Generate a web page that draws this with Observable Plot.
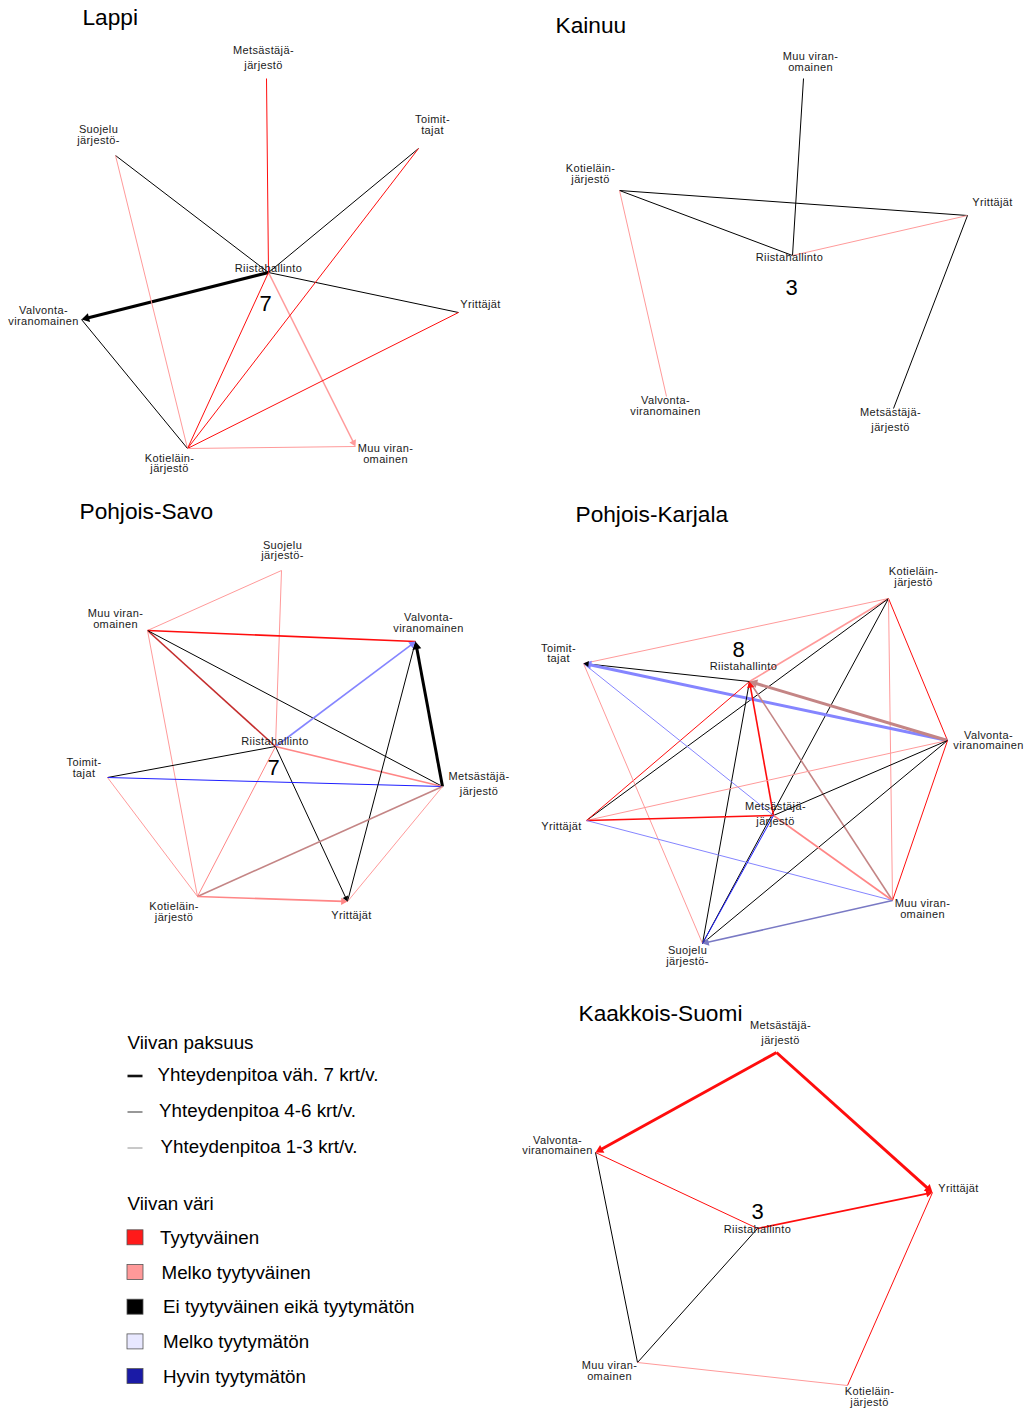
<!DOCTYPE html>
<html>
<head>
<meta charset="utf-8">
<script src="https://cdn.jsdelivr.net/npm/d3@7"></script>
<script src="https://cdn.jsdelivr.net/npm/@observablehq/plot@0.6"></script>
<style>
  html, body { margin: 0; padding: 0; background: #fff; }
  svg { display: block; }
  g[font-size="11"] { letter-spacing: 0.36px; }
</style>
</head>
<body>
<div id="chart"></div>
<script>
// ---------------- DATA ----------------
const ratingKeys = ["t", "mt", "e", "mtm", "ht"];
const ratingNames = ["Tyytyväinen", "Melko tyytyväinen", "Ei tyytyväinen eikä tyytymätön", "Melko tyytymätön", "Hyvin tyytymätön"];
const freqKeys = [3, 2, 1];
const freqNames = ["Yhteydenpitoa väh. 7 krt/v.", "Yhteydenpitoa 4-6 krt/v.", "Yhteydenpitoa 1-3 krt/v."];
const legendTitles = ["Viivan paksuus", "Viivan väri"];

const actorLabels = {
  Riista: "Riistahallinto",
  Mets: "Metsästäjä-\njärjestö",
  Suoj: "Suojelu\njärjestö-",
  Toim: "Toimit-\ntajat",
  Valv: "Valvonta-\nviranomainen",
  Yrit: "Yrittäjät",
  Koti: "Kotieläin-\njärjestö",
  Muu: "Muu viran-\nomainen"
};

const panelNames = ["Lappi", "Kainuu", "Pohjois-Savo", "Pohjois-Karjala", "Kaakkois-Suomi"];
const panelCounts = [7, 3, 7, 8, 3];
// layout: title anchor and count anchor (network layout coordinates)
const panelTitleAt = [[82, 17], [555, 25], [79, 511], [575, 514], [578, 1013.5]];
const panelCountAt = [[265, 303], [791, 287], [273, 767], [738, 649], [757, 1211]];

// nodes: [actor, x, y, labelX, labelY]  (network layout)
const lappiNodes = [
  ["Riista", 268, 272, 268, 268],
  ["Mets", 266, 78, 263, 50],
  ["Suoj", 115, 155, 98, 129],
  ["Toim", 418, 148, 432, 119],
  ["Valv", 81, 319, 43, 310],
  ["Yrit", 458, 312, 480, 304],
  ["Koti", 187, 448, 169, 457.5],
  ["Muu", 355, 446, 385, 448]
];
const kainuuNodes = [
  ["Riista", 792, 255, 789, 256.5],
  ["Muu", 803, 78, 810, 56],
  ["Koti", 619, 190, 590, 168],
  ["Yrit", 967, 215, 992, 202],
  ["Valv", 666, 396, 665, 400],
  ["Mets", 893, 408, 890, 412]
];
const savoNodes = [
  ["Suoj", 281, 570, 282, 544.5],
  ["Muu", 147, 630, 115, 613],
  ["Valv", 415, 641, 428, 617],
  ["Riista", 275, 746, 274.5, 741],
  ["Toim", 107, 777, 83.5, 762],
  ["Mets", 442, 786, 478.5, 776],
  ["Koti", 197, 896, 173.5, 906],
  ["Yrit", 347, 901, 351, 915]
];
const karjalaNodes = [
  ["Koti", 888, 598, 913, 571],
  ["Toim", 583, 663, 558, 647.5],
  ["Riista", 749, 681, 743, 665.5],
  ["Valv", 947, 740, 988, 734.5],
  ["Yrit", 586, 820, 561, 826],
  ["Mets", 773, 815, 775, 806],
  ["Muu", 892, 900, 922, 903],
  ["Suoj", 702, 943, 687, 950]
];
const kaakkoisNodes = [
  ["Mets", 776, 1052, 780, 1024.5],
  ["Valv", 595, 1152, 557, 1139.5],
  ["Yrit", 932, 1192, 958, 1187.5],
  ["Riista", 757, 1228, 757, 1229],
  ["Muu", 637, 1362, 609, 1365],
  ["Koti", 847, 1385, 869, 1391]
];

// edges: [from, to, rating A, rating B, frequency (3 = ≥7, 2 = 4-6, 1 = 1-3), directed]
const lappiEdges = [
  ["Riista", "Mets", "t", "t", 1, 0],
  ["Riista", "Suoj", "e", "e", 1, 0],
  ["Riista", "Toim", "e", "e", 1, 0],
  ["Riista", "Yrit", "e", "e", 1, 0],
  ["Riista", "Valv", "e", "e", 3, 1],
  ["Riista", "Muu", "mt", "mt", 2, 1],
  ["Riista", "Koti", "t", "t", 1, 0],
  ["Toim", "Koti", "t", "t", 1, 0],
  ["Yrit", "Koti", "t", "t", 1, 0],
  ["Suoj", "Koti", "mt", "mt", 1, 0],
  ["Valv", "Koti", "e", "e", 1, 0],
  ["Koti", "Muu", "mt", "mt", 1, 0]
];
const kainuuEdges = [
  ["Muu", "Riista", "e", "e", 1, 0],
  ["Koti", "Yrit", "e", "e", 1, 0],
  ["Koti", "Riista", "e", "e", 1, 0],
  ["Yrit", "Riista", "mt", "mt", 1, 0],
  ["Koti", "Valv", "mt", "mt", 1, 0],
  ["Yrit", "Mets", "e", "e", 1, 0]
];
const savoEdges = [
  ["Suoj", "Muu", "mt", "mt", 1, 0],
  ["Suoj", "Riista", "mt", "mt", 1, 0],
  ["Muu", "Valv", "t", "t", 2, 0],
  ["Muu", "Riista", "t", "e", 2, 0],
  ["Muu", "Mets", "e", "e", 1, 0],
  ["Muu", "Koti", "mt", "mt", 1, 0],
  ["Riista", "Valv", "mtm", "mtm", 2, 1],
  ["Riista", "Toim", "e", "e", 1, 0],
  ["Riista", "Mets", "t", "mt", 2, 0],
  ["Riista", "Koti", "t", "mt", 1, 0],
  ["Riista", "Yrit", "e", "e", 1, 1],
  ["Toim", "Mets", "ht", "ht", 1, 0],
  ["Toim", "Koti", "mt", "mt", 1, 0],
  ["Mets", "Valv", "e", "e", 3, 1],
  ["Yrit", "Valv", "e", "e", 1, 0],
  ["Mets", "Koti", "mt", "e", 2, 0],
  ["Mets", "Yrit", "mt", "mt", 1, 0],
  ["Koti", "Yrit", "t", "mt", 2, 1]
];
const karjalaEdges = [
  ["Koti", "Toim", "mt", "mt", 1, 0],
  ["Koti", "Riista", "mt", "mt", 2, 0],
  ["Koti", "Yrit", "e", "e", 1, 0],
  ["Koti", "Suoj", "e", "e", 1, 0],
  ["Koti", "Valv", "t", "t", 1, 0],
  ["Koti", "Muu", "mt", "mt", 1, 0],
  ["Riista", "Toim", "e", "e", 1, 1],
  ["Valv", "Toim", "mtm", "mtm", 3, 1],
  ["Valv", "Riista", "mt", "e", 3, 1],
  ["Riista", "Yrit", "t", "t", 1, 0],
  ["Riista", "Suoj", "e", "e", 1, 0],
  ["Mets", "Riista", "t", "t", 2, 1],
  ["Riista", "Muu", "mt", "e", 2, 0],
  ["Toim", "Mets", "mtm", "mtm", 1, 0],
  ["Toim", "Suoj", "mt", "mt", 1, 0],
  ["Yrit", "Valv", "mt", "mt", 1, 0],
  ["Yrit", "Mets", "t", "t", 2, 0],
  ["Yrit", "Muu", "mtm", "mtm", 1, 0],
  ["Valv", "Mets", "e", "e", 1, 0],
  ["Valv", "Suoj", "e", "e", 1, 0],
  ["Valv", "Muu", "t", "t", 1, 0],
  ["Mets", "Muu", "t", "mt", 2, 0],
  ["Mets", "Suoj", "ht", "ht", 1, 0],
  ["Muu", "Suoj", "mtm", "e", 2, 1]
];
const kaakkoisEdges = [
  ["Mets", "Valv", "t", "t", 3, 1],
  ["Mets", "Yrit", "t", "t", 3, 1],
  ["Valv", "Riista", "t", "t", 1, 0],
  ["Riista", "Yrit", "t", "t", 2, 1],
  ["Valv", "Muu", "e", "e", 1, 0],
  ["Riista", "Muu", "e", "e", 1, 0],
  ["Yrit", "Koti", "t", "t", 1, 0],
  ["Muu", "Koti", "mt", "mt", 1, 0]
];

const panelNodes = [lappiNodes, kainuuNodes, savoNodes, karjalaNodes, kaakkoisNodes];
const panelEdges = [lappiEdges, kainuuEdges, savoEdges, karjalaEdges, kaakkoisEdges];

// ---------------- STYLE ----------------
const W = 1028, H = 1408;
const FONT = "'Liberation Sans', Arial, Helvetica, sans-serif";
const lineColor = {t: "#ff0d0d", mt: "#ff9a9a", e: "#000000", mtm: "#8585ff", ht: "#1f1fff"};
const legendFill = {t: "#ff1a1a", mt: "#ff9999", e: "#000000", mtm: "#e8e8ff", ht: "#1a1aa6"};
const widthByFreq = {3: 3, 2: 1.6, 1: 1};
const headR = {3: 3.3, 2: 2.7, 1: 2.2};
const legendWidth = {3: 2.6, 2: 1.1, 1: 0.8};
const legendDash = {3: "#111", 2: "#444", 1: "#777"};
const TITLE_SIZE = 22.7, LABEL_SIZE = 11, LEGEND_SIZE = 18.8, COUNT_SIZE = 22;
const mix = (a, b) => {
  if (a === b) return lineColor[a];
  const c = d3.interpolateRgb.gamma(2.2)(lineColor[a], lineColor[b])(0.5);
  return d3.interpolateRgb(c, "#ffffff")(0.15);
};
const tipDist = r => 2 * Math.sqrt(Math.PI * r * r / (3 * Math.sqrt(3)));

// ---------------- BUILD ----------------
const links = [], heads = [], labels = [];
panelNodes.forEach((nodes, p) => {
  const byId = new Map(nodes.map(([id, x, y, lx, ly]) => [id, {id, x, y, lx, ly}]));
  panelEdges[p].forEach(([s, t, ra, rb, f, dir]) => {
    const a = byId.get(s), b = byId.get(t);
    const color = mix(ra, rb);
    let x2 = b.x, y2 = b.y;
    if (dir) {
      const dx = b.x - a.x, dy = b.y - a.y, len = Math.hypot(dx, dy);
      const ux = dx / len, uy = dy / len;
      const r = headR[f], d = tipDist(r);
      const cx = b.x - ux * d, cy = b.y - uy * d;
      heads.push({x: cx, y: cy, f, color, rotate: Math.atan2(dx, -dy) * 180 / Math.PI});
      x2 = cx; y2 = cy;
    }
    links.push({x1: a.x, y1: a.y, x2, y2, color, w: widthByFreq[f]});
  });
  nodes.forEach(([id, x, y, lx, ly]) => {
    const gap = id === "Mets" ? 15 : 10.6;
    actorLabels[id].split("\n").forEach((line, i) => labels.push({text: line, x: lx, y: ly + i * gap}));
  });
});

const titles = panelNames.map((name, i) => ({text: name, x: panelTitleAt[i][0], y: panelTitleAt[i][1]}));
const counts = panelCounts.map((c, i) => ({text: String(c), x: panelCountAt[i][0], y: panelCountAt[i][1]}));

// legend layout
const legX = 127, legTextX = 157;
const legHead = legendTitles.map((t, i) => ({text: t, x: legX, y: i === 0 ? 1042 : 1203.5}));
const widthItems = freqKeys.map((f, i) => ({f, text: freqNames[i], y: 1074.5 + i * 36}));
const colorItems = ratingKeys.map((k, i) => ({k, text: ratingNames[i], y: 1237.3 + i * 34.7}));

const chart = Plot.plot({
  width: W, height: H,
  margin: 0,
  x: {domain: [0, W], range: [0, W], axis: null},
  y: {domain: [0, H], range: [0, H], axis: null},
  color: {type: "identity"},
  style: {fontFamily: FONT, background: "#fff", overflow: "visible"},
  marks: [
    Plot.link(links, {x1: "x1", y1: "y1", x2: "x2", y2: "y2", stroke: "color", strokeWidth: "w"}),
    ...freqKeys.map(f => Plot.dot(heads.filter(h => h.f === f), {
      x: "x", y: "y", rotate: "rotate", symbol: "triangle", r: headR[f], fill: "color", stroke: "none"
    })),
    Plot.text(labels, {x: "x", y: "y", text: "text", fontSize: LABEL_SIZE, fill: "#1a1a1a", textAnchor: "middle", lineAnchor: "middle"}),
    Plot.text(titles, {x: "x", y: "y", text: "text", fontSize: TITLE_SIZE, fill: "#000", textAnchor: "start", lineAnchor: "middle"}),
    Plot.text(counts, {x: "x", y: "y", text: "text", fontSize: COUNT_SIZE, fill: "#000", textAnchor: "middle", lineAnchor: "middle"}),
    // legend
    Plot.text(legHead, {x: "x", y: "y", text: "text", fontSize: LEGEND_SIZE, fill: "#000", textAnchor: "start", lineAnchor: "middle"}),
    ...widthItems.map(d => Plot.link([d], {x1: legX, x2: legX + 15, y1: d => d.y + 1, y2: d => d.y + 1, stroke: legendDash[d.f], strokeWidth: legendWidth[d.f]})),
    Plot.text(widthItems, {x: (d, i) => legTextX + i * 1.5, y: "y", text: "text", fontSize: LEGEND_SIZE, fill: "#000", textAnchor: "start", lineAnchor: "middle"}),
    Plot.rect(colorItems, {x1: legX, x2: legX + 16, y1: d => d.y - 7.5, y2: d => d.y + 7.5, fill: d => legendFill[d.k], stroke: "#555", strokeWidth: 0.8}),
    Plot.text(colorItems, {x: (d, i) => legTextX + 2.5 + Math.min(i, 2) * 1.5, y: "y", text: "text", fontSize: LEGEND_SIZE, fill: "#000", textAnchor: "start", lineAnchor: "middle"})
  ]
});
document.getElementById("chart").appendChild(chart);
</script>
</body>
</html>
